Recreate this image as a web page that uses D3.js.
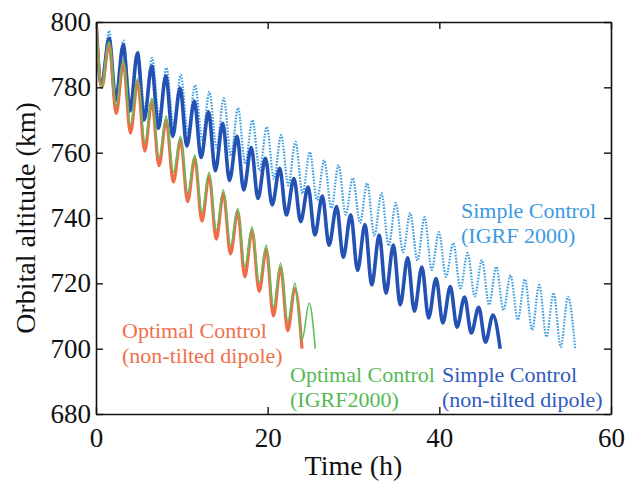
<!DOCTYPE html>
<html>
<head>
<meta charset="utf-8">
<script src="https://cdn.jsdelivr.net/npm/d3@7"></script>
<style>
  html, body { margin: 0; padding: 0; background: #fff; }
  svg { display: block; }
  svg text { font-family: 'Liberation Serif', 'Times New Roman', Times, serif; }
</style>
</head>
<body>
<svg id="chart" width="626" height="482"></svg>
<script>
// ---------------- data ----------------
const xTicks = [0, 20, 40, 60];
const yTicks = [680, 700, 720, 740, 760, 780, 800];

// Simple Control (IGRF 2000) - light blue dotted : alternating extrema [time h, altitude km]
const simpleIgrfT = [0, 0.68, 1.52, 2.35, 3.19, 4.02, 4.86, 5.69, 6.53, 7.36, 8.20, 9.04, 9.87, 10.71, 11.54,
  12.38, 13.21, 14.05, 14.88, 15.72, 16.55, 17.39, 18.23, 19.06, 19.90, 20.73, 21.57, 22.40, 23.24, 24.07, 24.91,
  25.75, 26.58, 27.42, 28.25, 29.09, 29.92, 30.76, 31.59, 32.43, 33.26, 34.10, 34.93, 35.77, 36.61, 37.44, 38.28,
  39.11, 39.95, 40.78, 41.62, 42.46, 43.29, 44.13, 44.96, 45.80, 46.63, 47.47, 48.30, 49.14, 49.97, 50.81, 51.64,
  52.48, 53.31, 54.15, 54.98, 55.82];
const simpleIgrfV = [800, 780.5, 797.3, 778, 794.3, 775.5, 791, 773, 789, 771, 786, 768.5, 783.8, 766, 780.7,
  764, 778.6, 761.5, 776.7, 759, 773.7, 756.5, 770, 754.5, 767.9, 752, 765.4, 750, 763.3, 747.5, 760.2,
  745.5, 757.7, 743, 756.2, 741, 752.2, 738.5, 750.7, 734.5, 747.6, 731.5, 744.6, 729.5, 741.5, 727, 740.3,
  724.1, 735.7, 722, 732.3, 718.5, 729.3, 716, 727.1, 713.4, 725.1, 711.8, 722.5, 708.8, 721.3, 705.7, 719.5,
  703.6, 717.1, 700.5, 715.9, 700.2];

// Simple Control (non-tilted dipole) - dark blue thick
const simpleDipT = [0, 0.64, 1.52, 2.30, 3.17, 3.96, 4.83, 5.61, 6.49, 7.27, 8.14, 8.93, 9.80, 10.58, 11.46,
  12.24, 13.11, 13.90, 14.77, 15.55, 16.43, 17.21, 18.09, 18.87, 19.74, 20.52, 21.40, 22.18, 23.06, 23.84, 24.71,
  25.50, 26.37, 27.15, 28.03, 28.81, 29.68, 30.47, 31.34, 32.12, 33.00, 33.78, 34.65, 35.44, 36.31, 37.09, 37.97,
  38.75, 39.62, 40.41, 41.28, 42.06, 42.94, 43.72, 44.59, 45.38, 46.25, 47.09];
const simpleDipV = [800, 780.7, 795, 776, 793, 772.7, 790.5, 770, 786.5, 767.5, 783.5, 765, 779.8, 762, 775.8,
  758.5, 772.5, 754.5, 769, 751.5, 765, 748.6, 761.6, 746, 758.3, 744, 755.2, 740.9, 752.1, 738.9, 749.5,
  734.8, 746.7, 731.7, 743.5, 728, 741, 724, 738, 719.5, 734.8, 717, 731.7, 713.4, 727.8, 711.5, 725,
  709.4, 721.5, 707.9, 719, 706.6, 715.8, 704.8, 712.7, 702, 710.3, 700];

// Optimal Control (IGRF2000) - green thin
const optIgrfT = [0, 0.68, 1.52, 2.35, 3.18, 4.01, 4.85, 5.68, 6.51, 7.34, 8.18, 9.01, 9.85, 10.68, 11.51,
  12.34, 13.18, 14.01, 14.84, 15.67, 16.51, 17.34, 18.18, 19.01, 19.84, 20.67, 21.51, 22.34, 23.17, 24.00, 24.84, 25.55];
const optIgrfV = [800, 780, 794, 774.3, 788.4, 768.5, 782.8, 763, 776.7, 758.4, 771.2, 754, 765, 747.6, 759.3,
  741.5, 754, 736.3, 748.6, 731.5, 743, 725, 737.2, 720.1, 731.7, 712.8, 726.2, 708.2, 720.1, 702.6, 714, 700];

// Optimal Control (non-tilted dipole) - orange thick
const optDipT = [0, 0.68, 1.52, 2.35, 3.18, 4.01, 4.85, 5.68, 6.51, 7.34, 8.18, 9.01, 9.85, 10.68, 11.51,
  12.34, 13.18, 14.01, 14.84, 15.67, 16.51, 17.34, 18.18, 19.01, 19.84, 20.67, 21.51, 22.34, 23.17, 24.00];
const optDipV = [800, 780, 793.5, 772, 787.5, 766, 781.8, 760.5, 775.7, 756, 770, 751, 764, 745, 758.3,
  739, 753, 733.5, 747.5, 729, 742, 722, 736.2, 717.5, 730.5, 710, 725, 705.5, 718.5, 700];

const seriesNames = ["Simple Control (IGRF 2000)", "Simple Control (non-tilted dipole)",
  "Optimal Control (IGRF2000)", "Optimal Control (non-tilted dipole)"];

// ---------------- drawing ----------------
const FONT = "'Liberation Serif', 'Times New Roman', Times, serif";
const W = 626, H = 482;
const margin = { left: 96, right: 15, top: 22, bottom: 68 };
const svg = d3.select("#chart");

const x = d3.scaleLinear().domain([0, 60]).range([margin.left, W - margin.right]);
const y = d3.scaleLinear().domain([680, 800]).range([H - margin.bottom, margin.top]);

const series = [
  { name: seriesNames[0], t: simpleIgrfT, v: simpleIgrfV, color: "#3d9de2", width: 2.2, dash: "1.6,1.4" },
  { name: seriesNames[1], t: simpleDipT, v: simpleDipV, color: "#2452b4", width: 3.6, dash: null },
  { name: seriesNames[3], t: optDipT, v: optDipV, color: "#f26b47", width: 3.2, dash: null },
  { name: seriesNames[2], t: optIgrfT, v: optIgrfV, color: "#5cc05a", width: 1.6, dash: null }
];

svg.append("defs").append("clipPath").attr("id", "plotclip")
  .append("rect")
  .attr("x", x(0)).attr("y", y(800) - 2)
  .attr("width", x(60) - x(0)).attr("height", y(680) - y(800) + 2);

const line = d3.line()
  .x(d => x(d[0]))
  .y(d => y(d[1]))
  .curve(d3.curveMonotoneX);

const g = svg.append("g").attr("clip-path", "url(#plotclip)");
series.forEach(s => {
  const pts = s.t.map((t, i) => [t, s.v[i]]);
  g.append("path")
    .datum(pts)
    .attr("d", line)
    .attr("fill", "none")
    .attr("stroke", s.color)
    .attr("stroke-width", s.width)
    .attr("stroke-linejoin", "round")
    .attr("stroke-dasharray", s.dash);
});

// axes
const tickFont = 27;
const axB = svg.append("g").attr("transform", `translate(0,${y(680)})`)
  .call(d3.axisBottom(x).tickValues(xTicks).tickSizeInner(-7).tickSizeOuter(0).tickPadding(14));
const axT = svg.append("g").attr("transform", `translate(0,${y(800)})`)
  .call(d3.axisTop(x).tickValues(xTicks).tickSizeInner(-7).tickSizeOuter(0).tickFormat(""));
const axL = svg.append("g").attr("transform", `translate(${x(0)},0)`)
  .call(d3.axisLeft(y).tickValues(yTicks).tickSizeInner(-7).tickSizeOuter(0).tickPadding(5));
const axR = svg.append("g").attr("transform", `translate(${x(60)},0)`)
  .call(d3.axisRight(y).tickValues(yTicks).tickSizeInner(-7).tickSizeOuter(0).tickFormat(""));

[axB, axT, axL, axR].forEach(a => {
  a.attr("font-family", FONT).attr("font-size", tickFont);
  a.selectAll("path.domain").attr("stroke", "#111").attr("stroke-width", 1.6);
  a.selectAll(".tick line").attr("stroke", "#111").attr("stroke-width", 1.4);
  a.selectAll("text").attr("font-family", FONT)
    .attr("font-size", tickFont).attr("fill", "#111");
});

// axis titles
svg.append("text")
  .attr("x", (x(0) + x(60)) / 2).attr("y", 475)
  .attr("text-anchor", "middle").attr("font-family", FONT).attr("font-size", 28).attr("fill", "#111")
  .text("Time (h)");
svg.append("text")
  .attr("transform", `translate(35,${(y(680) + y(800)) / 2}) rotate(-90)`)
  .attr("text-anchor", "middle").attr("font-family", FONT).attr("font-size", 28).attr("fill", "#111")
  .text("Orbital altitude (km)");

// in-plot labels
const labels = [
  { lines: ["Simple Control", "(IGRF 2000)"], x: 461, y: 218, color: "#3a9be0" },
  { lines: ["Simple Control", "(non-tilted dipole)"], x: 442, y: 382, color: "#2f5bc0" },
  { lines: ["Optimal Control", "(IGRF2000)"], x: 290, y: 382, color: "#55b955" },
  { lines: ["Optimal Control", "(non-tilted dipole)"], x: 122, y: 338, color: "#f0704a" }
];
labels.forEach(l => {
  const t = svg.append("text").attr("font-family", FONT).attr("font-size", 22).attr("fill", l.color);
  l.lines.forEach((s, i) => {
    t.append("tspan").attr("x", l.x).attr("y", l.y + i * 25).attr("font-family", FONT).text(s);
  });
});
</script>
</body>
</html>
